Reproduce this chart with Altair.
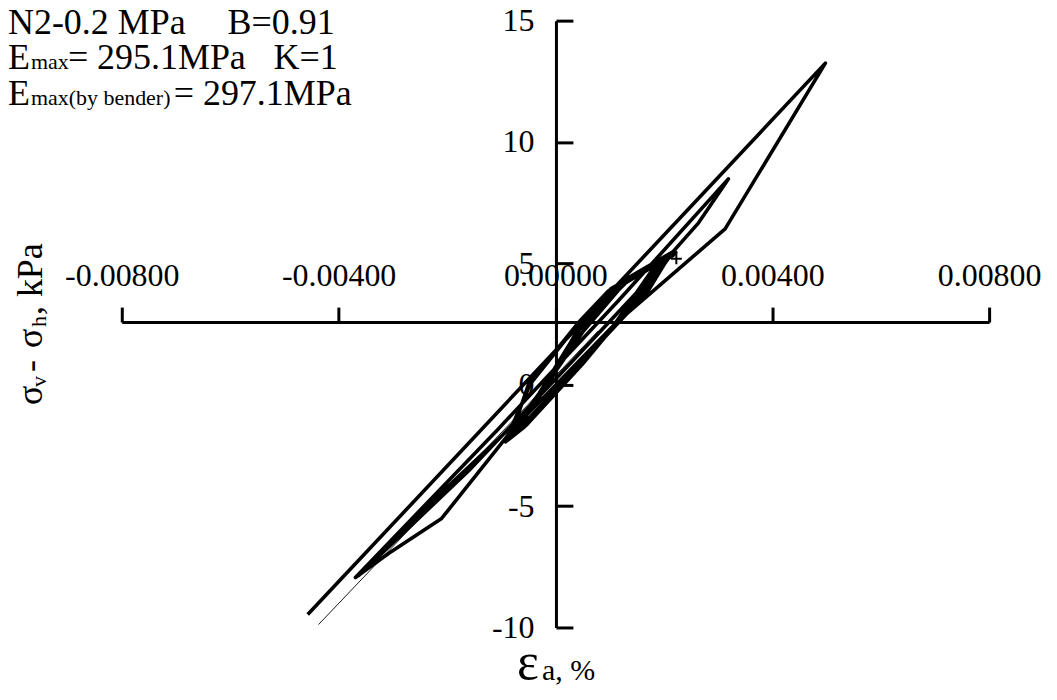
import altair as alt
import pandas as pd

# ---- data (axial strain %, deviator stress kPa) ----
strain = [
    -0.00457, 0.00498,
    0.00313, 0.00112, -0.00081, -0.00210, -0.00308, -0.00369,
    -0.00105, 0.00116, 0.00319,
    0.00264, 0.00153, 0.00006, -0.00160, -0.00363,
    -0.00197, -0.00050, 0.00052, 0.00131, 0.00205,
    0.00181, 0.00112, 0.00033, -0.00050, -0.00077,
    -0.00017, 0.00046, 0.00127, 0.00212,
    0.00186, 0.00116, 0.00037, -0.00053, -0.00087,
    -0.00022, 0.00042, 0.00120, 0.00195,
    0.00175, 0.00107, 0.00028, -0.00046, -0.00068,
    -0.00013, 0.00050, 0.00131, 0.00219,
    0.00194, 0.00120, 0.00039, -0.00057, -0.00092,
    -0.00030, 0.00038, 0.00118, 0.00210,
    0.00190, 0.00125, 0.00045, -0.00040, -0.00085,
    -0.00025, 0.00044, 0.00126, 0.00222,
    0.00200, 0.00130, 0.00050, -0.00045, -0.00080,
    -0.00050, 0.00042, 0.00098, 0.00210,
    0.00171, 0.00116, 0.00009, -0.00065, -0.00088,
    -0.00046, 0.00040, 0.00102, 0.00214,
    0.00168, 0.00112, 0.00012, -0.00062, -0.00082,
    -0.00019, 0.00052, 0.00138, 0.00218,
    0.00196, 0.00122, 0.00041, -0.00050, -0.00074,
    -0.00022, 0.00048, 0.00135, 0.00216,
]
stress = [
    -9.47, 13.25,
    6.42, 2.55, -1.89, -5.51, -6.95, -7.94,
    -1.81, 3.46, 8.48,
    6.67, 3.87, 0.37, -3.54, -7.86,
    -4.16, -1.07, 2.22, 4.28, 5.23,
    4.69, 2.55, 0.49, -1.48, -1.98,
    -0.08, 2.39, 4.28, 5.35,
    4.86, 2.63, 0.58, -1.65, -2.22,
    -0.25, 2.30, 4.16, 5.02,
    4.61, 2.43, 0.37, -1.40, -1.73,
    0.04, 2.47, 4.36, 5.51,
    5.02, 2.72, 0.62, -1.73, -2.35,
    -0.35, 2.10, 4.05, 5.25,
    4.95, 2.90, 0.75, -1.20, -2.05,
    -0.20, 2.25, 4.20, 5.45,
    5.10, 3.00, 0.85, -1.45, -1.95,
    0.00, 2.55, 3.87, 5.30,
    3.87, 2.55, 0.00, -1.77, -2.10,
    0.05, 2.45, 3.95, 5.38,
    3.95, 2.50, 0.05, -1.70, -2.00,
    -0.10, 2.55, 4.45, 5.35,
    5.05, 2.80, 0.70, -1.55, -1.85,
    -0.16, 2.39, 4.32, 5.31,
]
ref_strain = [-0.00437, 0.00079]
ref_stress = [-9.88, 2.22]
mark_strain = [0.00223]
mark_stress = [5.19]
x_ticks = [-0.008, -0.004, 0.0, 0.004, 0.008]
y_ticks = [-10, -5, 0, 5, 10, 15]

FONT = "Liberation Serif"

loop_df = pd.DataFrame({"strain": strain, "stress": stress, "order": list(range(len(strain)))})
ref_df = pd.DataFrame({"strain": ref_strain, "stress": ref_stress, "order": [0, 1]})
mark_df = pd.DataFrame({"strain": mark_strain, "stress": mark_stress})

xs = alt.Scale(domain=[-0.008, 0.008], nice=False, zero=False)
ys = alt.Scale(domain=[-10, 15], nice=False, zero=False)

xaxis = alt.Axis(
    orient="top", offset=-302, values=x_ticks, grid=False,
    domainColor="black", domainWidth=3, tickColor="black", tickWidth=3, tickSize=15,
    labelFont=FONT, labelFontSize=32, labelColor="black", labelPadding=22,
    labelBaseline="alphabetic", labelFlush=False, labelOverlap=False,
    labelExpr="datum.value < 0 ? '-' + format(-datum.value, '.5f') : format(datum.value, '.5f')",
    title=None,
)
yaxis = alt.Axis(
    orient="right", offset=-434, values=y_ticks, grid=False,
    domainColor="black", domainWidth=3, tickColor="black", tickWidth=3, tickSize=17,
    labelFont=FONT, labelFontSize=32, labelColor="black", labelPadding=-39,
    labelAlign="right", labelBaseline="middle", labelFlush=False, labelOverlap=False,
    labelExpr="datum.value < 0 ? '-' + format(-datum.value, 'd') : format(datum.value, 'd')",
    title=None,
)

X = alt.X("strain:Q", scale=xs, axis=xaxis)
Y = alt.Y("stress:Q", scale=ys, axis=yaxis)

loop = alt.Chart(loop_df).mark_line(color="black", strokeWidth=3.6, strokeJoin="round").encode(
    x=X, y=Y, order="order:Q"
)
ref = alt.Chart(ref_df).mark_line(color="black", strokeWidth=0.9).encode(
    x=X, y=Y, order="order:Q"
)
marker = alt.Chart(mark_df).mark_point(
    shape="M-1,0H1M0,-1V1", size=120, color="black", strokeWidth=2, filled=False, opacity=1
).encode(x=X, y=Y)

one = pd.DataFrame({"k": [0]})


def txt(s, x, y, size, angle=0):
    props = dict(text=s, font=FONT, fontSize=size, color="black", align="left", baseline="alphabetic")
    if angle:
        props["angle"] = angle
    return alt.Chart(one).mark_text(**props).encode(x=alt.value(x), y=alt.value(y))


texts = [
    # info box
    txt("N2-0.2 MPa", -114, 13, 36),
    txt("B=0.91", 106, 13, 36),
    txt("E", -114, 48, 36),
    txt("max", -91, 48, 22),
    txt("= 295.1MPa", -54, 48, 36),
    txt("K=1", 152, 48, 36),
    txt("E", -114, 85, 36),
    txt("max(by bender)", -91, 85, 22),
    txt("= 297.1MPa", 52, 85, 36),
    # x title
    txt("ε", 396, 660, 52),
    txt("a, %", 421, 661, 30),
    # y title (rotated)
    txt("σ", -80, 385, 36, 270),
    txt("v", -76, 367, 22, 270),
    txt("-", -80, 352, 36, 270),
    txt("σ", -80, 328, 36, 270),
    txt("h", -76, 307, 22, 270),
    txt(", kPa", -80, 295, 36, 270),
]

chart = alt.layer(loop, ref, marker, *texts).properties(
    width=869,
    height=608,
    autosize="none",
    padding={"left": 114, "top": 12, "right": 60, "bottom": 60},
    background="white",
).configure_view(strokeWidth=0)

chart.save("out.html", embed_options={"renderer": "svg", "actions": False})
